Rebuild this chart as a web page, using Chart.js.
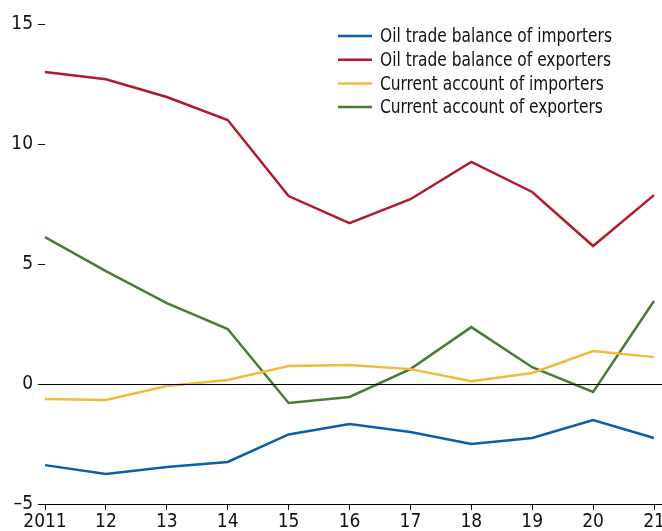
<!DOCTYPE html>
<html>
<head>
<meta charset="utf-8">
<script src="https://cdn.jsdelivr.net/npm/chart.js@4/dist/chart.umd.min.js"></script>
<style>
  html, body { margin: 0; padding: 0; background: #fff; }
  #wrap { width: 662px; height: 531px; position: relative; }
</style>
</head>
<body>
<div id="wrap"><canvas id="chart"></canvas></div>
<script>
const years = ['2011', '12', '13', '14', '15', '16', '17', '18', '19', '20', '21'];
const yTicks = [-5, 0, 5, 10, 15];

// Values, percent of GDP
const oilTradeImporters = [-3.38, -3.75, -3.46, -3.25, -2.1, -1.67, -2.0, -2.5, -2.25, -1.5, -2.25];
const oilTradeExporters = [13.0, 12.7, 11.96, 11.0, 7.83, 6.7, 7.7, 9.25, 8.0, 5.75, 7.87];
const currentAccImporters = [-0.62, -0.67, -0.08, 0.17, 0.75, 0.79, 0.62, 0.12, 0.46, 1.37, 1.12];
const currentAccExporters = [6.12, 4.7, 3.37, 2.29, -0.79, -0.54, 0.62, 2.37, 0.7, -0.33, 3.46];

const FONT = '"DejaVu Sans Condensed", "Liberation Sans", sans-serif';

// zero line + bottom axis line, running past the plot area like the original
const axisLines = {
  id: 'axisLines',
  afterDatasetsDraw(chart) {
    const { ctx, scales: { y } } = chart;
    ctx.save();
    ctx.strokeStyle = '#000';
    ctx.lineWidth = 1;
    [0, -5].forEach(v => {
      const py = Math.round(y.getPixelForValue(v)) + 0.5;
      ctx.beginPath();
      ctx.moveTo(38, py);
      ctx.lineTo(662, py);
      ctx.stroke();
    });
    ctx.restore();
  }
};

// legend drawn at a fixed spot, top right, squeezed to look condensed
const sideLegend = {
  id: 'sideLegend',
  afterDraw(chart) {
    const { ctx } = chart;
    const sets = chart.data.datasets;
    ctx.save();
    ctx.font = '20px ' + FONT;
    ctx.textBaseline = 'middle';
    const squeeze = 232 / ctx.measureText(sets[0].label).width;
    sets.forEach((ds, i) => {
      const yy = 36 + i * 23.7;
      ctx.strokeStyle = ds.borderColor;
      ctx.lineWidth = 2.5;
      ctx.beginPath();
      ctx.moveTo(338, yy);
      ctx.lineTo(372, yy);
      ctx.stroke();
      ctx.save();
      ctx.translate(380, yy + 1);
      ctx.scale(squeeze, 1);
      ctx.fillStyle = '#111';
      ctx.fillText(ds.label, 0, 0);
      ctx.restore();
    });
    ctx.restore();
  }
};

function line(label, data, color) {
  return {
    label: label,
    data: data,
    borderColor: color,
    backgroundColor: color,
    borderWidth: 2.5,
    pointRadius: 0,
    tension: 0,
    fill: false
  };
}

new Chart(document.getElementById('chart'), {
  type: 'line',
  data: {
    labels: years,
    datasets: [
      line('Oil trade balance of importers', oilTradeImporters, '#0b5ea8'),
      line('Oil trade balance of exporters', oilTradeExporters, '#b01c2e'),
      line('Current account of importers', currentAccImporters, '#f3b93d'),
      line('Current account of exporters', currentAccExporters, '#4b7b36')
    ]
  },
  options: {
    responsive: true,
    maintainAspectRatio: false,
    animation: false,
    layout: { padding: { left: 0, right: 8, top: 24, bottom: 0 } },
    plugins: { legend: { display: false }, tooltip: { enabled: false } },
    scales: {
      x: {
        offset: false,
        border: { display: false },
        grid: { drawOnChartArea: false, drawTicks: true, tickLength: 6, color: '#000' },
        ticks: { color: '#111', font: { family: FONT, size: 19 }, padding: 1, maxRotation: 0, autoSkip: false },
        afterFit(scale) {
          scale.height = 27;
          scale.paddingLeft = 0;
          scale.paddingRight = 0;
        }
      },
      y: {
        min: -5,
        max: 15,
        afterBuildTicks(scale) { scale.ticks = yTicks.map(v => ({ value: v })); },
        border: { display: false },
        grid: { drawOnChartArea: false, drawTicks: true, tickLength: 7, color: '#000' },
        ticks: {
          color: '#111',
          font: { family: FONT, size: 19 },
          padding: 5,
          callback: v => (v < 0 ? '\u2013' + Math.abs(v) : v)
        },
        afterFit(scale) { scale.width = 45; }
      }
    }
  },
  plugins: [axisLines, sideLegend]
});
</script>
</body>
</html>
